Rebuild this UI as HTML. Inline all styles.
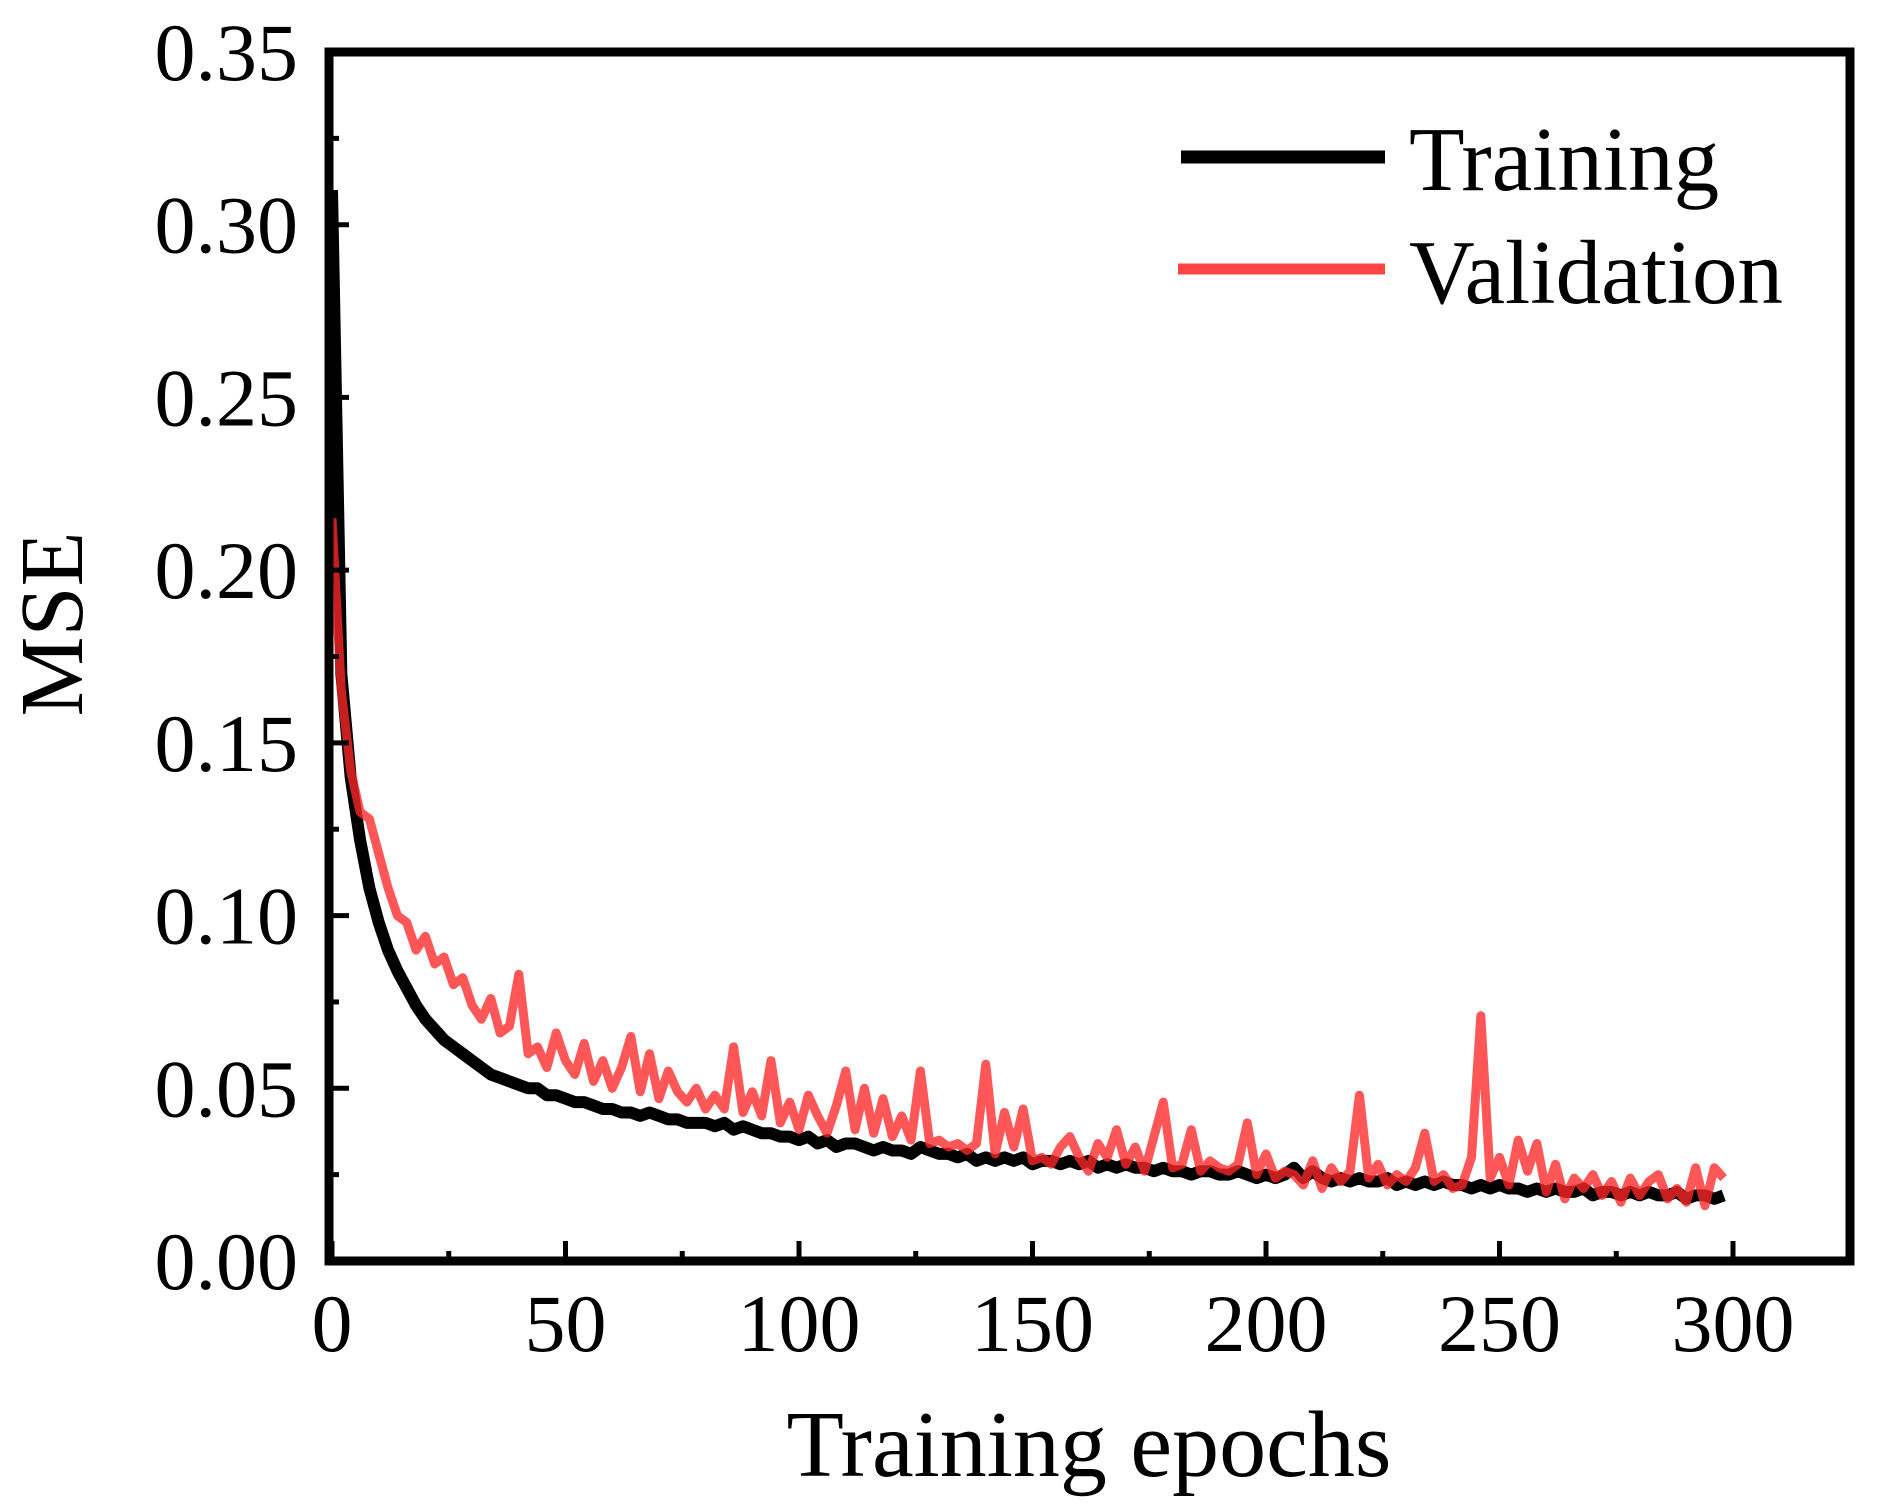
<!DOCTYPE html>
<html><head><meta charset="utf-8"><style>
html,body{margin:0;padding:0;background:#fff;}
svg{display:block;font-family:"Liberation Serif",serif;}
</style></head><body>
<svg id="chart" width="1880" height="1509" viewBox="0 0 1880 1509" xmlns="http://www.w3.org/2000/svg">
<g id="marks"></g>
<g id="axes"></g>
<text x="1089" y="1476" font-size="94" text-anchor="middle">Training epochs</text>
<text transform="translate(82,624) rotate(-90)" font-size="90" text-anchor="middle">MSE</text>
<g>
<line x1="1181" y1="157" x2="1385" y2="157" stroke="#000" stroke-width="13"/>
<text x="1409" y="190" font-size="91">Training</text>
<line x1="1178" y1="269" x2="1385" y2="269" stroke="#ff4444" stroke-width="11"/>
<text x="1409" y="303" font-size="91">Validation</text>
</g>
</svg>
<script>
const epochs = [];
for (let e = 0; e <= 298; e += 2) epochs.push(e);
const trainingMSE = [0.310,0.170,0.140,0.122,0.108,0.098,0.090,0.084,0.079,0.074,
0.070,0.067,0.064,0.062,0.060,0.058,0.056,0.054,0.053,0.052,
0.051,0.050,0.050,0.048,0.048,0.047,0.046,0.046,0.045,0.044,
0.044,0.043,0.043,0.042,0.043,0.042,0.041,0.041,0.040,0.040,
0.040,0.039,0.040,0.038,0.039,0.038,0.037,0.037,0.036,0.036,
0.035,0.036,0.034,0.035,0.033,0.034,0.034,0.033,0.032,0.033,
0.032,0.032,0.031,0.033,0.032,0.031,0.031,0.030,0.031,0.029,
0.030,0.029,0.030,0.029,0.030,0.028,0.029,0.029,0.028,0.029,
0.028,0.029,0.027,0.028,0.027,0.028,0.027,0.027,0.026,0.027,
0.026,0.026,0.025,0.026,0.026,0.025,0.025,0.026,0.025,0.024,
0.025,0.024,0.025,0.027,0.024,0.026,0.024,0.023,0.024,0.023,
0.024,0.023,0.023,0.024,0.022,0.023,0.022,0.023,0.022,0.023,
0.022,0.022,0.021,0.022,0.021,0.022,0.021,0.021,0.020,0.021,
0.020,0.021,0.020,0.020,0.021,0.019,0.020,0.020,0.019,0.020,
0.019,0.020,0.019,0.019,0.020,0.018,0.019,0.019,0.018,0.019];
const validationMSE = [0.215,0.165,0.142,0.130,0.128,0.118,0.108,0.100,0.098,0.090,
0.094,0.086,0.088,0.080,0.082,0.074,0.070,0.076,0.066,0.068,
0.083,0.060,0.062,0.056,0.066,0.058,0.054,0.063,0.052,0.058,
0.050,0.056,0.065,0.049,0.060,0.047,0.055,0.049,0.046,0.050,
0.044,0.048,0.044,0.062,0.043,0.049,0.042,0.058,0.040,0.046,
0.038,0.048,0.042,0.037,0.045,0.055,0.038,0.050,0.037,0.047,
0.036,0.042,0.035,0.055,0.034,0.035,0.033,0.034,0.032,0.034,
0.057,0.031,0.043,0.033,0.044,0.029,0.030,0.028,0.033,0.036,
0.030,0.026,0.034,0.030,0.038,0.028,0.033,0.026,0.036,0.046,
0.027,0.028,0.038,0.026,0.029,0.027,0.026,0.028,0.040,0.025,
0.031,0.024,0.026,0.025,0.022,0.029,0.021,0.027,0.023,0.026,
0.048,0.024,0.028,0.022,0.025,0.023,0.027,0.037,0.023,0.025,
0.021,0.022,0.030,0.071,0.024,0.030,0.022,0.035,0.026,0.034,
0.020,0.028,0.018,0.024,0.021,0.025,0.019,0.023,0.017,0.024,
0.019,0.023,0.025,0.018,0.021,0.017,0.027,0.016,0.027,0.024];
const xTicks = [0,50,100,150,200,250,300];
const xMinor = [25,75,125,175,225,275];
const yTicks = [0,0.05,0.10,0.15,0.20,0.25,0.30,0.35];
const yTickLabels = ["0.00","0.05","0.10","0.15","0.20","0.25","0.30","0.35"];
const yMinor = [0.025,0.075,0.125,0.175,0.225,0.275,0.325];

const NS = "http://www.w3.org/2000/svg";
const L = 329, R = 1850, T = 52, B = 1261;
function xs(v){ return 332 + v * (1733 - 332) / 300; }
function ys(v){ return B - v * (B - T) / 0.35; }
function mk(tag, attrs, parent){ const el = document.createElementNS(NS, tag); for (const k in attrs) el.setAttribute(k, attrs[k]); parent.appendChild(el); return el; }

const marks = document.getElementById('marks');
const axes = document.getElementById('axes');

const tp = mk('polyline', {points: epochs.map((e,i)=>xs(e)+','+ys(trainingMSE[i])).join(' '), fill:'none', stroke:'#000', 'stroke-width':12, 'stroke-linejoin':'round'}, marks);


const vp = mk('polyline', {points: epochs.map((e,i)=>xs(e)+','+ys(validationMSE[i])).join(' '), fill:'none', stroke:'rgba(255,40,40,0.78)', 'stroke-width':9, 'stroke-linejoin':'round'}, marks);



const frame = mk('rect', {x:L, y:T, width:R-L, height:B-T, fill:'none', stroke:'#000', 'stroke-width':9}, axes);



xTicks.forEach(v=>{
  const t = mk('line', {x1:xs(v), x2:xs(v), y1:B, y2:B-20, stroke:'#000', 'stroke-width':5}, axes);
  
  
  const lb = mk('text', {x:xs(v), y:1351, 'font-size':82, 'text-anchor':'middle'}, axes);
  lb.textContent = String(v);
  
  
});
xMinor.forEach(v=>{
  const t = mk('line', {x1:xs(v), x2:xs(v), y1:B, y2:B-10, stroke:'#000', 'stroke-width':5}, axes);
  
  
});
yTicks.forEach((v,i)=>{
  const t = mk('line', {x1:L, x2:L+20, y1:ys(v), y2:ys(v), stroke:'#000', 'stroke-width':5}, axes);
  
  
  const lb = mk('text', {x:298, y:ys(v)+28, 'font-size':82, 'text-anchor':'end'}, axes);
  lb.textContent = yTickLabels[i];
  
  
});
yMinor.forEach(v=>{
  const t = mk('line', {x1:L, x2:L+10, y1:ys(v), y2:ys(v), stroke:'#000', 'stroke-width':5}, axes);
  
  
});
</script>
</body></html>
